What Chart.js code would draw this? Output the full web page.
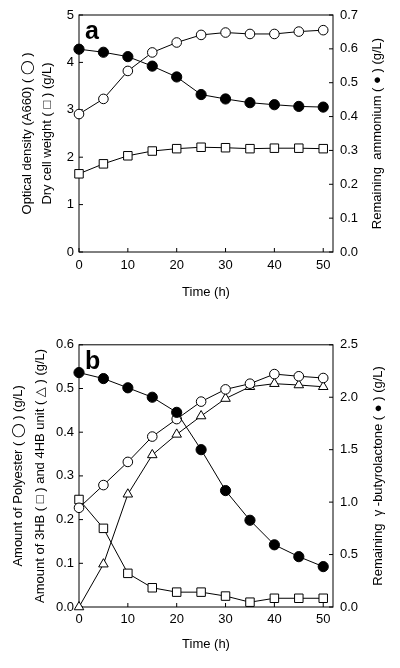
<!DOCTYPE html>
<html>
<head>
<meta charset="utf-8">
<script src="https://cdn.jsdelivr.net/npm/chart.js@4/dist/chart.umd.min.js"></script>
<style>
  body { margin: 0; background: #fff; }
  .panel { position: relative; width: 400px; }
  #boxA { height: 330px; }
  #boxB { height: 338px; }
</style>
</head>
<body>
<div class="panel" id="boxA"><canvas id="chartA"></canvas></div>
<div class="panel" id="boxB"><canvas id="chartB"></canvas></div>
<script>
const time = [0, 5, 10, 15, 20, 25, 30, 35, 40, 45, 50];

// panel a
const aOpticalDensity = [2.91, 3.23, 3.82, 4.21, 4.42, 4.58, 4.63, 4.60, 4.60, 4.65, 4.68];
const aDryCellWeight = [1.65, 1.86, 2.03, 2.13, 2.18, 2.21, 2.20, 2.18, 2.19, 2.19, 2.18];
const aAmmonium = [0.599, 0.590, 0.577, 0.549, 0.517, 0.465, 0.452, 0.441, 0.435, 0.430, 0.428];

// panel b
const bPolyester = [0.227, 0.279, 0.332, 0.390, 0.430, 0.470, 0.498, 0.511, 0.533, 0.528, 0.524];
const b3HB = [0.246, 0.180, 0.077, 0.044, 0.034, 0.034, 0.025, 0.011, 0.020, 0.020, 0.020];
const b4HB = [0.0, 0.098, 0.258, 0.348, 0.395, 0.437, 0.477, 0.504, 0.511, 0.508, 0.504];
const bButyrolactone = [2.235, 2.178, 2.09, 2.0, 1.856, 1.50, 1.11, 0.827, 0.593, 0.48, 0.385];

const FONT = "'Liberation Sans', Arial, 'DejaVu Sans', sans-serif";
Chart.defaults.font.family = FONT;
Chart.defaults.font.size = 13;
Chart.defaults.color = '#000';

// box around the plot area, inward tick marks, panel letter, right-hand title
const frame = {
  id: 'frame',
  beforeDatasetsDraw(chart) {
    const {ctx, chartArea: a, scales} = chart;
    ctx.save();
    ctx.strokeStyle = '#000';
    ctx.lineWidth = 1;
    ctx.strokeRect(a.left, a.top, a.width, a.height);
    ctx.beginPath();
    scales.x.ticks.forEach((t, i) => {
      const p = scales.x.getPixelForTick(i);
      ctx.moveTo(p, a.bottom); ctx.lineTo(p, a.bottom - 4);
    });
    scales.y.ticks.forEach((t, i) => {
      const p = scales.y.getPixelForTick(i);
      ctx.moveTo(a.left, p); ctx.lineTo(a.left + 4, p);
    });
    scales.y2.ticks.forEach((t, i) => {
      const p = scales.y2.getPixelForTick(i);
      ctx.moveTo(a.right, p); ctx.lineTo(a.right - 4, p);
    });
    ctx.stroke();
    ctx.restore();
  },
  afterDraw(chart, args, opts) {
    const {ctx, chartArea: a} = chart;
    ctx.save();
    ctx.fillStyle = '#000';
    ctx.font = 'bold 25px ' + FONT;
    ctx.textBaseline = 'top';
    ctx.fillText(opts.letter, a.left + 6, a.top + 5);
    ctx.font = '13px ' + FONT;
    ctx.textAlign = 'center';
    ctx.textBaseline = 'middle';
    ctx.translate(opts.rightX, (a.top + a.bottom) / 2);
    ctx.rotate(-Math.PI / 2);
    ctx.fillText(opts.rightTitle, 0, 0);
    ctx.restore();
  }
};

function series(data, style, filled, radius, axis) {
  return {
    data: data,
    yAxisID: axis,
    borderColor: '#000',
    borderWidth: 1,
    backgroundColor: filled ? '#000' : '#fff',
    pointStyle: style,
    pointRadius: radius,
    pointBorderWidth: 1,
    pointBackgroundColor: filled ? '#000' : '#fff',
    pointBorderColor: '#000',
    pointHoverRadius: radius,
    tension: 0,
    clip: false
  };
}

function fixW(w) { return function(s) { s.width = w; }; }
function fixH(h) { return function(s) { s.height = h; }; }

const noGrid = { display: false, drawTicks: false };

function makeChart(id, cfg) {
  return new Chart(document.getElementById(id), {
    type: 'line',
    data: { labels: time, datasets: cfg.datasets },
    options: {
      responsive: true,
      maintainAspectRatio: false,
      animation: false,
      events: [],
      layout: { padding: cfg.padding },
      plugins: {
        legend: { display: false },
        tooltip: { enabled: false },
        frame: { letter: cfg.letter, rightTitle: cfg.y2Title, rightX: cfg.y2TitleX }
      },
      scales: {
        x: {
          type: 'linear', min: 0, max: 52,
          afterBuildTicks: s => { s.ticks = [0, 10, 20, 30, 40, 50].map(v => ({value: v})); },
          afterFit: fixH(cfg.xHeight),
          grid: noGrid,
          border: { display: false },
          ticks: { padding: cfg.xPad },
          title: { display: true, text: 'Time (h)', padding: { top: 4, bottom: 4 } }
        },
        y: {
          position: 'left', min: cfg.yMin, max: cfg.yMax,
          afterFit: fixW(cfg.yWidth),
          grid: noGrid,
          border: { display: false },
          ticks: { stepSize: cfg.yStep, padding: 5, callback: cfg.yFmt },
          title: { display: true, text: cfg.yTitle, font: { size: 13, lineHeight: cfg.yLine }, padding: { top: 4, bottom: 4 } }
        },
        y2: {
          position: 'right', min: cfg.y2Min, max: cfg.y2Max,
          afterFit: fixW(cfg.y2Width),
          grid: noGrid,
          border: { display: false },
          ticks: { stepSize: cfg.y2Step, padding: 7, callback: v => v.toFixed(1) },
          title: { display: false }
        }
      }
    },
    plugins: [frame]
  });
}

makeChart('chartA', {
  letter: 'a',
  padding: { left: 13, right: 12, top: 15, bottom: 26 },
  xHeight: 52, xPad: 6,
  yWidth: 66, yMin: 0, yMax: 5, yStep: 1, yFmt: v => v.toString(), yLine: 1.54,
  yTitle: ['Optical density (A660) ( \u25EF )', 'Dry cell weight ( \u25A1 ) (g/L)'],
  y2Width: 55, y2Min: 0, y2Max: 0.7, y2Step: 0.1,
  y2Title: 'Remaining  ammonium ( \u25CF ) (g/L)', y2TitleX: 377,
  datasets: [
    series(aOpticalDensity, 'circle', false, 4.8, 'y'),
    series(aAmmonium, 'circle', true, 5.1, 'y2'),
    series(aDryCellWeight, 'rect', false, 6, 'y')
  ]
});

makeChart('chartB', {
  letter: 'b',
  padding: { left: 3, right: 11, top: 13, bottom: 12 },
  xHeight: 49, xPad: 5,
  yWidth: 76, yMin: 0, yMax: 0.6, yStep: 0.1, yFmt: v => v.toFixed(1), yLine: 1.7,
  yTitle: ['Amount of Polyester ( \u25EF ) (g/L)', 'Amount of 3HB ( \u25A1 ) and 4HB unit ( \u25B3 ) (g/L)'],
  y2Width: 56, y2Min: 0, y2Max: 2.5, y2Step: 0.5,
  y2Title: 'Remaining  \u03B3 -butyrolactone ( \u25CF ) (g/L)', y2TitleX: 378,
  datasets: [
    series(bButyrolactone, 'circle', true, 5.1, 'y2'),
    series(bPolyester, 'circle', false, 4.8, 'y'),
    series(b4HB, 'triangle', false, 5.5, 'y'),
    series(b3HB, 'rect', false, 6, 'y')
  ]
});
</script>
</body>
</html>
